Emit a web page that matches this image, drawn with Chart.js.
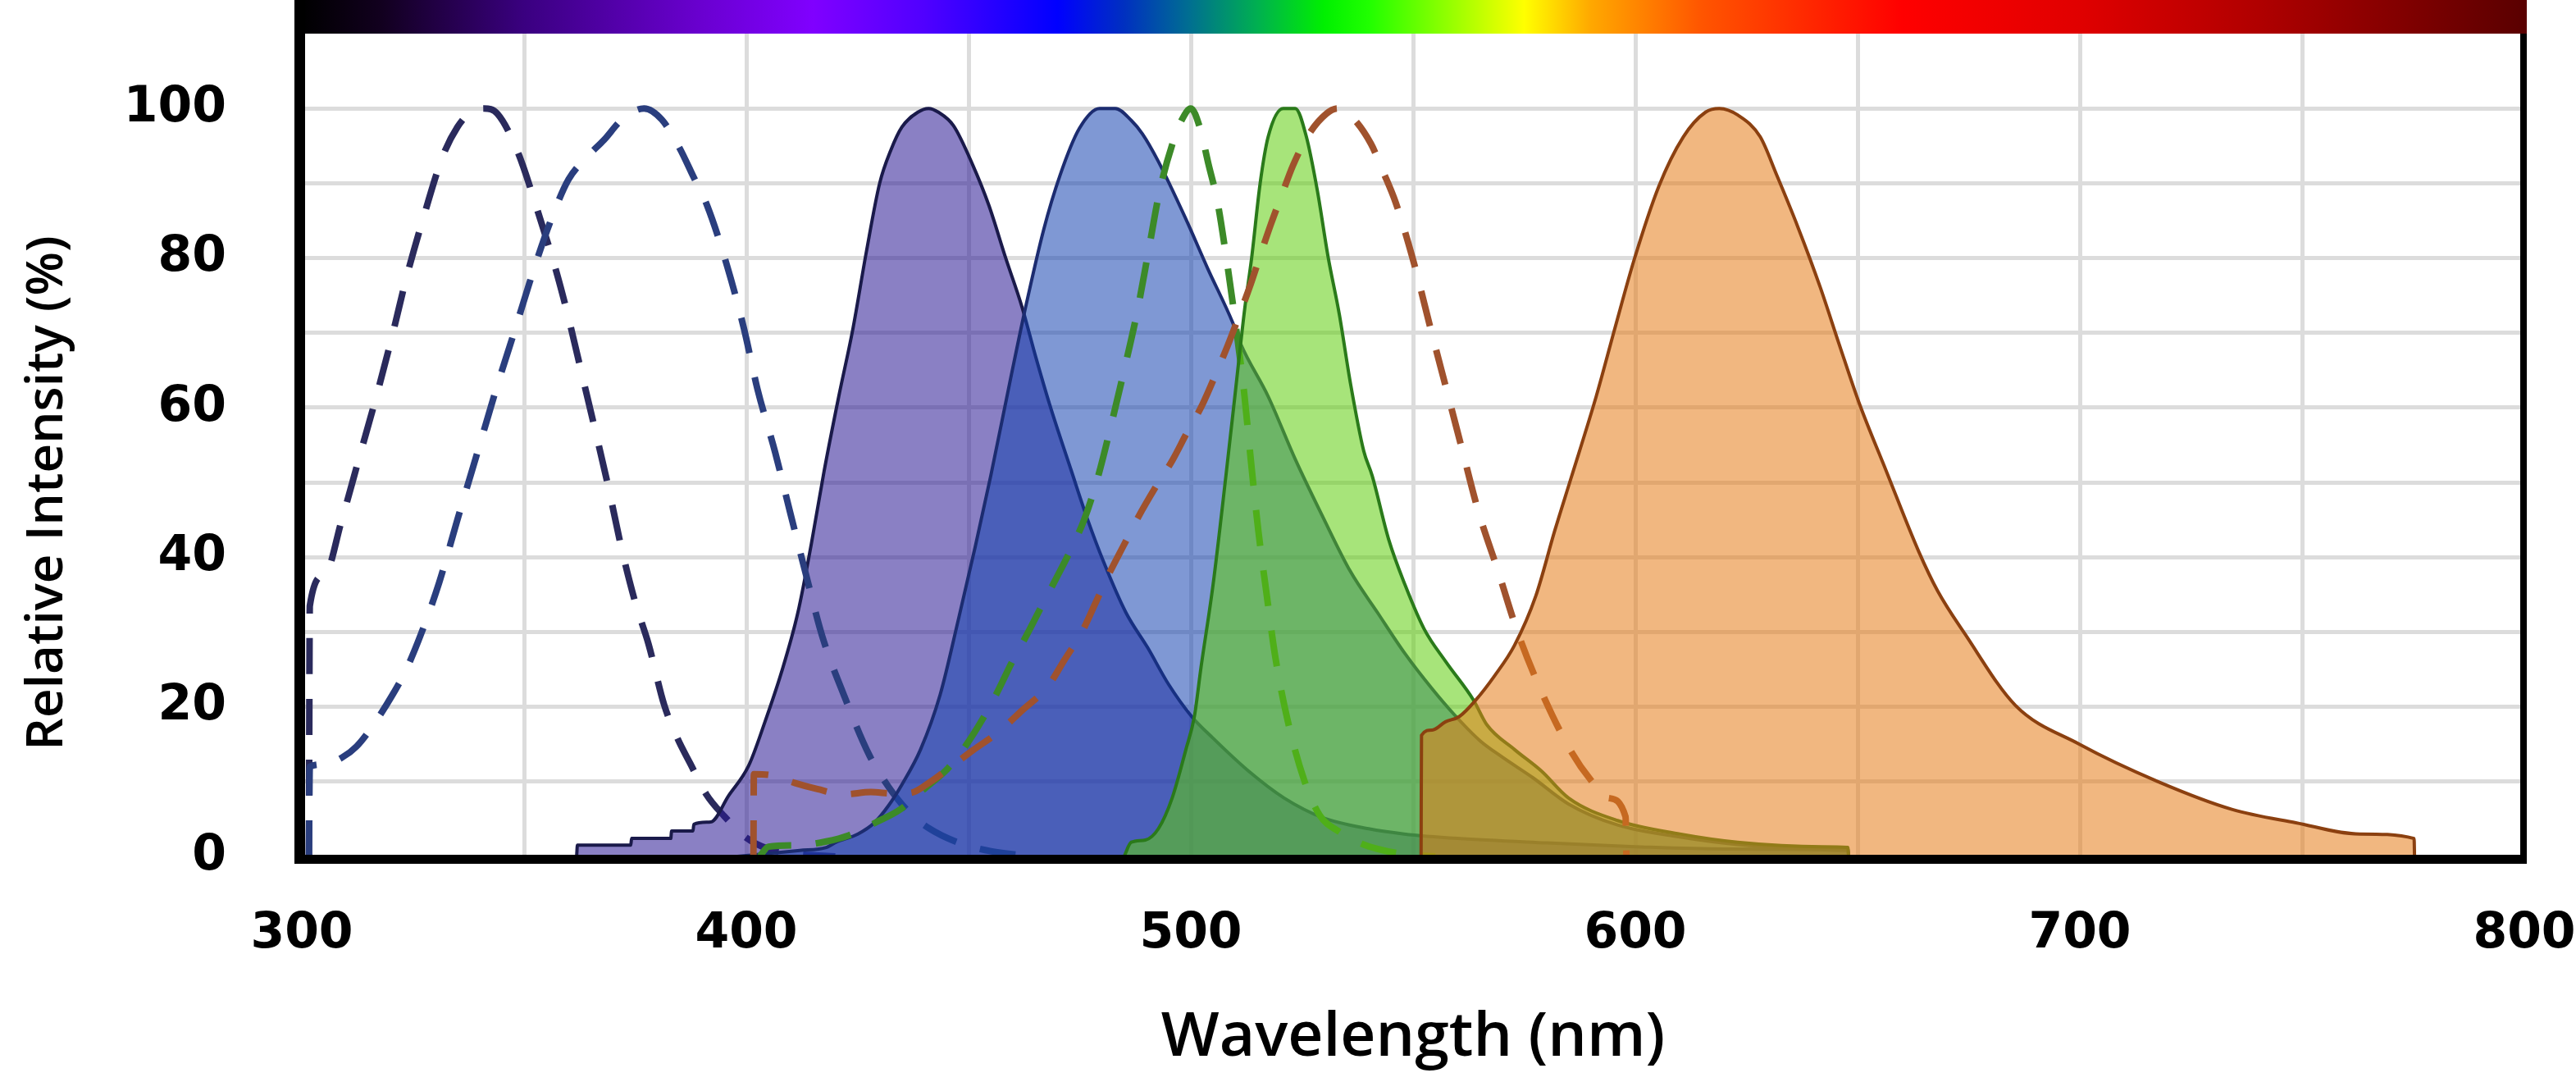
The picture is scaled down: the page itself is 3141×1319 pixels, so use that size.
<!DOCTYPE html>
<html>
<head>
<meta charset="utf-8">
<script src="https://cdn.jsdelivr.net/npm/chart.js@4.4.0/dist/chart.umd.min.js"></script>
<style>
  html, body { margin: 0; padding: 0; background: #fff; }
  #wrap { width: 3141px; height: 1319px; }
</style>
</head>
<body>
<div id="wrap"><canvas id="spectraChart" width="3141" height="1319"></canvas></div>
<script>
// dye 1 (violet) - excitation dashed, emission filled
var exA_nm  = [301.6, 301.8, 305, 309, 313, 317, 320.5, 323.5, 327.4, 331.7, 335, 338, 341, 344, 348.5, 353, 357.3, 360, 363, 366, 369, 372, 375, 378, 381.5, 384.5, 387.4, 391, 395, 400, 405, 412, 420];
var exA_val = [0, 33.5, 37.5, 45, 53.5, 62, 70, 77.3, 85.5, 93.6, 97.5, 99.5, 100, 99.3, 94.3, 86.4, 78.1, 72, 64.5, 57, 49.3, 41, 34, 28.4, 20.3, 15.8, 12.4, 8.3, 5.4, 2.5, 1, 0.3, 0];
var emA_nm  = [360, 361.8, 362, 374, 374.2, 383, 383.2, 388, 388.2, 392, 396, 400.5, 404.2, 407.9, 411.6, 414.6, 417.5, 420.8, 424, 427, 430, 432.5, 435, 438.6, 441, 443.2, 446.6, 450.9, 454.6, 458.3, 462, 465.1, 468.2, 473.1, 476.8, 480.5, 485.4, 490.3, 495, 500.2, 505, 513, 521, 529.6, 540, 548, 560, 580, 600, 620, 647.8, 648];
var emA_val = [0, 0, 1.5, 1.5, 2.4, 2.4, 3.4, 3.4, 4.3, 4.6, 8.1, 12.1, 18, 24.6, 32.6, 41.7, 51.5, 61.5, 70.6, 80.8, 90, 94.4, 97.5, 99.5, 100, 99.5, 97.7, 92.5, 87, 80.1, 73.5, 66.8, 60.5, 51.6, 45, 39.2, 32.6, 27.9, 23, 18.7, 15.8, 11.4, 7.8, 5.2, 3.7, 3, 2.4, 1.8, 1.3, 1, 0.8, 0];

// dye 2 (blue)
var exB_nm  = [301.6, 301.8, 305, 309, 312.3, 316, 320.5, 323.5, 326.8, 330.9, 335, 340, 344, 348, 352.2, 356, 360, 364.3, 368, 372, 377, 381, 384.9, 388, 391.2, 395.7, 399.5, 402.5, 406.5, 409.9, 413.5, 417.1, 422, 427.7, 432, 436.8, 441, 447.5, 455, 465];
var exB_val = [0, 12, 12.3, 13.2, 14.7, 17.5, 21.7, 25, 29.7, 36.6, 45, 55, 63, 70.5, 78.5, 85, 90.5, 93.6, 95.8, 98.5, 100, 98.5, 94.8, 91, 87, 78.9, 70.5, 62.5, 54, 45.9, 37.5, 29.4, 21.5, 13.5, 9.3, 5.8, 3.8, 1.9, 0.7, 0];
var emB_nm  = [398, 405, 412, 418, 420.2, 425.1, 428.8, 432, 435, 439.2, 443.6, 447.8, 451.5, 455, 459.5, 462.6, 466.9, 470.6, 474.9, 479.5, 483, 486.6, 489.1, 492.7, 498.9, 503.8, 509.4, 511.3, 517.4, 523.5, 529.7, 535.9, 542, 548.2, 554.3, 559.2, 565, 570, 577, 585, 596, 610, 623, 640, 647.8, 648];
var emB_val = [0, 0.4, 0.8, 1.2, 1.9, 3, 4.5, 6.8, 9.6, 14.3, 21.6, 31.9, 41.4, 50.9, 64, 72.8, 83.8, 91.1, 97.3, 100, 100, 98.4, 96.6, 92.9, 85.2, 78.6, 71.4, 68.4, 61.5, 53.1, 45.4, 38.1, 32.6, 27.1, 22.4, 19, 15.5, 13.3, 10.5, 7, 4.2, 2.6, 1.6, 1.1, 1, 0];

// dye 3 (green)
var exD_nm  = [403, 405, 412, 418, 423, 429, 434.7, 440, 445.4, 449, 453, 456.5, 459.7, 463, 466.3, 470, 473, 476, 479, 482, 485, 488, 490.5, 493, 496, 498, 500, 502, 504, 506, 508, 510, 512, 513.5, 515.2, 517, 519, 521.7, 525.5, 529, 533.4, 538, 542, 548, 555];
var exD_val = [0, 1.3, 1.5, 2, 2.8, 4.5, 6.3, 9, 11.8, 14.5, 18.2, 22, 25.9, 29.5, 33.3, 37.5, 41, 45, 50.5, 57.5, 65, 73, 81, 89, 95.5, 98.5, 100, 97.5, 92.5, 87.5, 80, 71.5, 62, 53, 43.5, 35.3, 26.7, 18.4, 10.2, 5.5, 3.3, 1.8, 1, 0.3, 0];
var emD_nm  = [485, 486.6, 489.8, 492.7, 495.8, 498.9, 500.8, 502.3, 505, 507.9, 510, 512.1, 513.7, 515.6, 517.4, 520.8, 523.5, 526, 528.5, 530.9, 533.4, 535.9, 538.9, 540.8, 544.5, 548.2, 552.5, 557.4, 563.6, 566.6, 572.8, 578.9, 585, 596, 610, 623, 642, 647.8, 648];
var emD_val = [0, 1.9, 2.2, 3.7, 7.8, 14.3, 18.7, 25.3, 36.3, 50.9, 62, 73.1, 80.1, 90, 96.2, 100, 100, 96.2, 88.9, 80.1, 72.5, 63.3, 54.2, 50.9, 42.4, 36.3, 30.4, 26, 20.9, 17.6, 14.3, 11.4, 7.8, 4.8, 3, 1.9, 1.3, 1.2, 0];

// dye 4 (orange)
var exC_nm  = [401.6, 401.7, 406, 411, 416, 422, 428, 433, 437, 441, 445.4, 451, 456.9, 462, 467.8, 471.5, 475.5, 478.5, 481.7, 485, 488.2, 492, 495.9, 499, 502.6, 505.5, 508.3, 511, 513.4, 515.7, 518, 520.5, 523, 526.5, 530.5, 533, 536, 540.5, 543.3, 546.1, 550.3, 553.8, 557.4, 561, 564.6, 569.2, 573.5, 578.9, 585.3, 590, 594, 597.8, 598];
var exC_val = [0, 11, 10.8, 9.8, 9, 8.3, 8.6, 8.4, 8.5, 9.8, 11.7, 14.2, 16.7, 19.5, 22.7, 26.2, 30, 33.8, 37.9, 41.7, 45.4, 49.3, 53, 56.5, 60.4, 64.3, 68.3, 72.5, 76.4, 80.5, 84.5, 88.5, 92.4, 96.5, 99.3, 100, 99, 95.3, 91.5, 87.4, 79.1, 70.9, 62.7, 54.5, 46.3, 38, 30, 22, 14.3, 10.2, 7.8, 5.3, 0];
var emC_nm  = [551.8, 551.9, 554.3, 557.3, 560.4, 564.1, 568.4, 572.8, 577.6, 581.9, 585.5, 591.2, 595.4, 599.7, 605.3, 610.8, 615.8, 618.9, 623.1, 628.1, 631.8, 636.6, 641.6, 645.9, 650.3, 656.4, 663.8, 668, 674.2, 685.5, 699.9, 717.6, 734.2, 748.6, 763, 775.2, 775.3];
var emC_val = [0, 16.2, 16.9, 18, 18.7, 20.9, 24.2, 28.2, 34.8, 43.6, 50.5, 61.5, 70.6, 79.7, 89.6, 96.2, 99.5, 100, 99.1, 96.2, 91.1, 84.1, 76.1, 68.4, 60.7, 51.6, 40.7, 35.5, 29.7, 20.2, 15, 10, 6.3, 4.5, 3, 2.4, 0];

// colour strip along the top
var spectrumNm = [300, 318, 350, 390, 415, 440, 470, 485, 500, 515, 530, 540, 560, 575, 590, 615, 660, 700, 740, 800];
var spectrumColors = ['#000000', '#12001f', '#3a0080', '#6a00d0', '#8000ff', '#5000ff', '#0000ff', '#0030c0', '#007090', '#00b050', '#00f000', '#20ff00', '#a0ff00', '#ffff00', '#ffa800', '#ff5500', '#ff0000', '#e00000', '#b00000', '#5a0000'];

var xTicks = [300, 400, 500, 600, 700, 800];
var yTicks = [0, 20, 40, 60, 80, 100];

function pts(nm, val) {
  return nm.map(function (x, i) { return { x: x, y: val[i] }; });
}

function excitation(label, nm, val, color) {
  return {
    label: label, data: pts(nm, val), fill: false,
    borderColor: color, borderWidth: 8, borderDash: [44, 30],
    pointRadius: 0, cubicInterpolationMode: 'monotone'
  };
}

function emission(label, nm, val, fillColor, lineColor) {
  return {
    label: label, data: pts(nm, val), fill: 'origin',
    backgroundColor: fillColor, borderColor: lineColor, borderWidth: 4,
    pointRadius: 0, cubicInterpolationMode: 'monotone'
  };
}

// first dataset is drawn on top
var datasets = [
  emission('Dye 4 Em', emC_nm, emC_val, 'rgba(230,124,24,0.55)', '#8b4010'),
  excitation('Dye 4 Ex', exC_nm, exC_val, '#a0522d'),
  emission('Dye 3 Em', emD_nm, emD_val, 'rgba(95,206,13,0.55)', '#2a7a1a'),
  excitation('Dye 3 Ex', exD_nm, exD_val, '#3c8a28'),
  emission('Dye 2 Em', emB_nm, emB_val, 'rgba(22,68,177,0.55)', '#1c2c70'),
  excitation('Dye 2 Ex', exB_nm, exB_val, '#2a3e7e'),
  emission('Dye 1 Em', emA_nm, emA_val, 'rgba(42,24,148,0.55)', '#1a1a4a'),
  excitation('Dye 1 Ex', exA_nm, exA_val, '#2a2a5c')
];

var frame = {
  id: 'frame',
  beforeDraw: function (chart) {
    var ctx = chart.ctx;
    ctx.save();
    ctx.fillStyle = '#ffffff';
    ctx.fillRect(0, 0, chart.width, chart.height);
    ctx.restore();
  },
  afterDraw: function (chart) {
    var ctx = chart.ctx, a = chart.chartArea, xs = chart.scales.x;
    var g0 = xs.getPixelForValue(300), g1 = xs.getPixelForValue(800);
    var grad = ctx.createLinearGradient(g0, 0, g1, 0);
    spectrumNm.forEach(function (nm, i) {
      grad.addColorStop((nm - 300) / 500, spectrumColors[i]);
    });
    ctx.save();
    ctx.fillStyle = grad;
    ctx.fillRect(a.left - 9, 0, a.right + 3 - (a.left - 9), a.top);
    ctx.fillStyle = '#000000';
    ctx.fillRect(a.left - 9, 0, 13, a.bottom + 9);
    ctx.fillRect(a.left - 9, a.bottom - 2, a.right + 3 - (a.left - 9), 11);
    ctx.fillRect(a.right - 5, a.top, 8, a.bottom + 9 - a.top);
    // y axis title
    ctx.translate(58, 601);
    ctx.rotate(-Math.PI / 2);
    ctx.font = '600 62px "Open Sans"';
    ctx.textAlign = 'center';
    ctx.textBaseline = 'middle';
    ctx.fillText('Relative Intensity (%)', 0, 0);
    ctx.restore();
  }
};

new Chart('spectraChart', {
  type: 'line',
  data: { datasets: datasets },
  plugins: [frame],
  options: {
    responsive: false,
    animation: false,
    devicePixelRatio: 1,
    layout: { padding: { left: 0, right: 63, top: 41, bottom: 0 } },
    plugins: {
      legend: { display: false },
      tooltip: { enabled: false }
    },
    scales: {
      x: {
        type: 'linear', min: 300, max: 800,
        afterFit: function (s) { s.height = 275; s.paddingLeft = 0; s.paddingRight = 0; },
        grid: { color: '#dcdcdc', lineWidth: 5, drawTicks: false },
        border: { display: false },
        ticks: {
          stepSize: 50, autoSkip: false, padding: 59, color: '#000',
          font: { family: 'DejaVu Sans', weight: 'bold', size: 60 },
          callback: function (v) { return xTicks.indexOf(v) >= 0 ? String(v) : ''; }
        },
        title: {
          display: true, text: 'Wavelength (nm)', color: '#000',
          font: { family: 'Open Sans', weight: '600', size: 75 },
          padding: { top: 0, bottom: 8 }
        }
      },
      y: {
        min: 0, max: 110,
        afterFit: function (s) { s.width = 368; s.paddingTop = 0; s.paddingBottom = 0; },
        grid: {
          lineWidth: 5, drawTicks: false,
          color: function (c) { return c.tick.value === 110 ? 'rgba(0,0,0,0)' : '#dcdcdc'; }
        },
        border: { display: false },
        ticks: {
          stepSize: 10, autoSkip: false, padding: 92, color: '#000',
          font: { family: 'DejaVu Sans', weight: 'bold', size: 60 },
          callback: function (v) { return yTicks.indexOf(v) >= 0 ? String(v) : ''; }
        }
      }
    }
  }
});
</script>
</body>
</html>
